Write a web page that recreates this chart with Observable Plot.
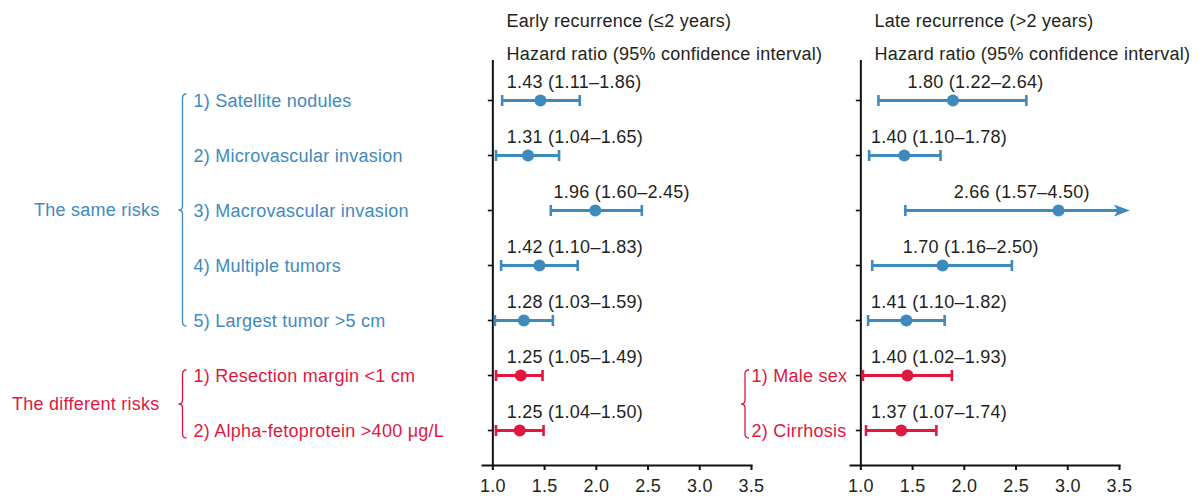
<!DOCTYPE html>
<html>
<head>
<meta charset="utf-8">
<script src="https://cdn.jsdelivr.net/npm/d3@7"></script>
<script src="https://cdn.jsdelivr.net/npm/@observablehq/plot@0.6"></script>
<style>
  html, body { margin: 0; padding: 0; background: #fff; }
</style>
</head>
<body>
<div id="chart"></div>
<script>
// ---------- data ----------
const rowIds = [1, 2, 3, 4, 5, 6, 7];
const rowGroups = ["same", "same", "same", "same", "same", "different", "different"];
const leftRowLabels = [
  "1) Satellite nodules",
  "2) Microvascular invasion",
  "3) Macrovascular invasion",
  "4) Multiple tumors",
  "5) Largest tumor >5 cm",
  "1) Resection margin <1 cm",
  "2) Alpha-fetoprotein >400 μg/L"
];
const rightRowLabels = [null, null, null, null, null, "1) Male sex", "2) Cirrhosis"];
const groupNames = ["same", "different"];
const groupLabels = ["The same risks", "The different risks"];

const panels = ["early", "late"];
const panelTitles = ["Early recurrence (≤2 years)", "Late recurrence (>2 years)"];
const panelSubtitle = "Hazard ratio (95% confidence interval)";

const earlyText = ["1.43 (1.11–1.86)", "1.31 (1.04–1.65)", "1.96 (1.60–2.45)", "1.42 (1.10–1.83)",
                   "1.28 (1.03–1.59)", "1.25 (1.05–1.49)", "1.25 (1.04–1.50)"];
const earlyHR  = [1.46, 1.34, 1.99, 1.45, 1.30, 1.27, 1.26];
const earlyLo  = [1.09, 1.03, 1.56, 1.08, 1.02, 1.03, 1.03];
const earlyHi  = [1.84, 1.64, 2.44, 1.82, 1.58, 1.48, 1.49];
const earlyLabelAt = [1.135, 1.135, 1.587, 1.135, 1.135, 1.135, 1.135];

const lateText = ["1.80 (1.22–2.64)", "1.40 (1.10–1.78)", "2.66 (1.57–4.50)", "1.70 (1.16–2.50)",
                  "1.41 (1.10–1.82)", "1.40 (1.02–1.93)", "1.37 (1.07–1.74)"];
const lateHR  = [1.89, 1.42, 2.91, 1.79, 1.44, 1.45, 1.39];
const lateLo  = [1.17, 1.08, 1.43, 1.11, 1.07, 1.02, 1.05];
const lateHi  = [2.60, 1.77, 4.50, 2.46, 1.81, 1.88, 1.73];
const lateLabelAt = [1.45, 1.097, 1.898, 1.405, 1.097, 1.097, 1.097];

const xTicks = [1.0, 1.5, 2.0, 2.5, 3.0, 3.5];
const xDomain = [0.9, 3.5];
const arrowTip = 3.6;

// ---------- styles ----------
const BLUE = "#3f8abd";
const RED = "#e0183f";
const INK = "#231f20";
const FONT = "'Liberation Sans', Arial, Helvetica, sans-serif";
const FS = 18;
const LS = "0.25px";

// ---------- tables ----------
const series = {
  early: {hr: earlyHR, lo: earlyLo, hi: earlyHi, text: earlyText, at: earlyLabelAt},
  late: {hr: lateHR, lo: lateLo, hi: lateHi, text: lateText, at: lateLabelAt}
};
const table = panels.flatMap(p => rowIds.map((r, i) => ({
  panel: p, row: r, group: rowGroups[i],
  hr: series[p].hr[i], lo: series[p].lo[i], hi: series[p].hi[i],
  text: series[p].text[i], at: series[p].at[i]
})));
const leftLabels = rowIds.map((r, i) => ({panel: "early", row: r, group: rowGroups[i], text: leftRowLabels[i]}));
const rightLabels = rowIds.map((r, i) => ({panel: "late", row: r, group: rowGroups[i], text: rightRowLabels[i]}))
  .filter(d => d.text);
const headers = panels.map((p, i) => ({panel: p, title: panelTitles[i], sub: panelSubtitle}));
const groupRows = groupNames.map((g, i) => {
  const rs = rowIds.filter((r, j) => rowGroups[j] === g);
  return {group: g, label: groupLabels[i], first: rs[0], last: rs[rs.length - 1], panel: "early"};
});

const tickLeft = {draw(ctx) { ctx.moveTo(-5, 0); ctx.lineTo(0, 0); }};
const capV = {draw(ctx) { ctx.moveTo(0, -5.5); ctx.lineTo(0, 5.5); }};
const arrowHead = {draw(ctx) {
  ctx.moveTo(0, 0); ctx.lineTo(-16, -6); ctx.lineTo(-12, 0); ctx.lineTo(-16, 6); ctx.closePath();
}};

const chart = Plot.plot({
  width: 1204,
  height: 497,
  marginTop: 60,
  marginBottom: 32,
  marginLeft: 482,
  marginRight: 84,
  style: {fontFamily: FONT, fontSize: FS + "px", letterSpacing: LS, color: INK, background: "#fff", overflow: "visible"},
  fx: {domain: panels, paddingInner: 0.269, paddingOuter: 0, axis: null, label: null},
  x: {domain: xDomain, label: null},
  y: {type: "point", domain: rowIds, range: [99, 430], padding: 0, axis: null},
  color: {domain: groupNames, range: [BLUE, RED]},
  marks: [
    Plot.frame({anchor: "bottom", stroke: "#111", strokeWidth: 2}),
    Plot.ruleX([1], {stroke: "#111", strokeWidth: 2}),
    Plot.axisX({ticks: xTicks, tickFormat: ".1f", tickSize: 5, tickPadding: 9, strokeWidth: 2,
                stroke: "#111", fill: INK, label: null, fontSize: FS}),
    Plot.dot(rowIds, {x: 1, y: d => d, symbol: tickLeft, fill: "none", stroke: "#111", strokeWidth: 1.6}),
    // confidence intervals
    Plot.ruleY(table, {fx: "panel", y: "row", x1: "lo", x2: d => Math.min(d.hi, xDomain[1]),
                       stroke: "group", strokeWidth: 3}),
    Plot.dot(table, {fx: "panel", y: "row", x: "lo", symbol: capV, fill: "none", stroke: "group",
                     strokeWidth: 2.6}),
    Plot.dot(table.filter(d => d.hi <= xDomain[1]), {fx: "panel", y: "row", x: "hi", symbol: capV,
                     fill: "none", stroke: "group", strokeWidth: 2.6}),
    Plot.dot(table.filter(d => d.hi > xDomain[1]), {fx: "panel", y: "row", x: () => arrowTip,
                     symbol: arrowHead, fill: "group", stroke: "none"}),
    Plot.dot(table, {fx: "panel", x: "hr", y: "row", r: 6, fill: "group", stroke: "none"}),
    // value labels
    Plot.text(table, {fx: "panel", x: "at", y: "row", text: "text", dy: -18, textAnchor: "start",
                      fill: INK, fontSize: FS}),
    // headers
    Plot.text(headers, {fx: "panel", text: "title", frameAnchor: "top-left", dx: 24, dy: -39,
                        lineAnchor: "middle", textAnchor: "start", fill: INK, fontSize: FS}),
    Plot.text(headers, {fx: "panel", text: "sub", frameAnchor: "top-left", dx: 24, dy: -6,
                        lineAnchor: "middle", textAnchor: "start", fill: INK, fontSize: FS}),
    // row labels
    Plot.text(leftLabels, {fx: "panel", y: "row", text: "text", frameAnchor: "left", dx: -289, dy: 1,
                           textAnchor: "start", fill: "group", fontSize: FS}),
    Plot.text(rightLabels, {fx: "panel", y: "row", text: "text", frameAnchor: "left", dx: -99, dy: 1,
                            textAnchor: "start", fill: "group", fontSize: FS})
  ]
});

document.getElementById("chart").appendChild(chart);

// group labels and braces, positioned with the plot's own y scale
const ys = chart.scale("y");
const svg = d3.select(chart);
function brace(x, top, bot, color) {
  const mid = (top + bot) / 2, r = 4;
  const p = `M${x + r},${top} Q${x},${top} ${x},${top + r} L${x},${mid - r} Q${x},${mid} ${x - r},${mid}` +
            ` Q${x},${mid} ${x},${mid + r} L${x},${bot - r} Q${x},${bot} ${x + r},${bot}`;
  svg.append("path").attr("d", p).attr("fill", "none").attr("stroke", color).attr("stroke-width", 1.3);
}
const colorOf = {same: BLUE, different: RED};
groupRows.forEach(g => {
  const top = ys.apply(g.first), bot = ys.apply(g.last);
  const t = g.group === "same" ? top - 6 : top - 5;
  const b = g.group === "same" ? bot + 6 : bot + 8;
  brace(182.5, t, b, colorOf[g.group]);
  svg.append("text")
    .attr("x", 159.5).attr("y", (t + b) / 2).attr("dy", "0.32em")
    .attr("text-anchor", "end").attr("fill", colorOf[g.group])
    .attr("font-size", FS).attr("font-family", FONT)
    .text(g.label);
});
// brace for the right-panel different-risk rows
{
  const rs = rightLabels.map(d => d.row);
  const top = ys.apply(rs[0]) - 5, bot = ys.apply(rs[rs.length - 1]) + 8;
  brace(745, top, bot, RED);
}
</script>
</body>
</html>
